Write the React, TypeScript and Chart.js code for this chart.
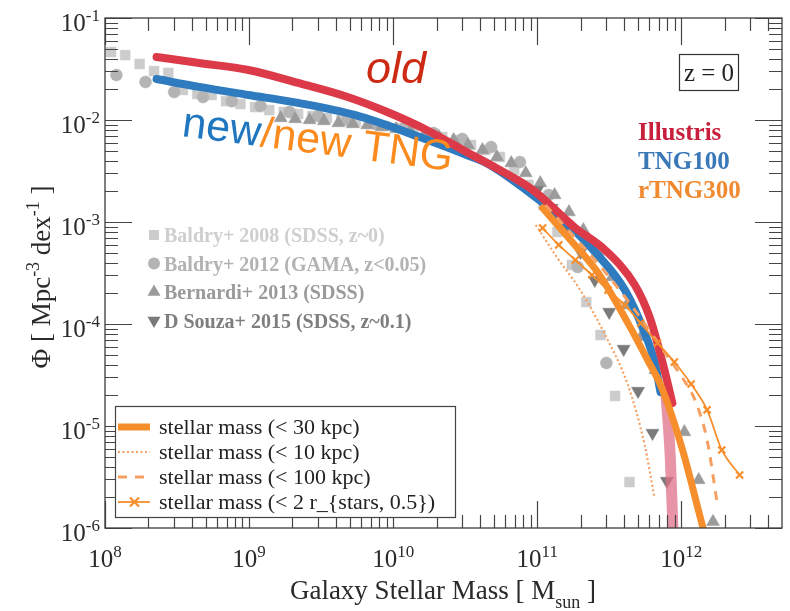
import { useEffect, useRef } from 'react';
import { Chart, registerables } from 'chart.js';
Chart.register(...registerables);

// ---------- axis setup ----------
const xMin = 1e8;
const xMax = 5e12;
const yMin = 1e-6;
const yMax = 1e-1;
const xMajorTicks = [1e8, 1e9, 1e10, 1e11, 1e12];
const xTickExps = ['8', '9', '10', '11', '12'];
const yMajorTicks = [1e-1, 1e-2, 1e-3, 1e-4, 1e-5, 1e-6];
const yTickExps = ['-1', '-2', '-3', '-4', '-5', '-6'];
const minorMultiples = [2, 3, 4, 5, 6, 7, 8, 9];

// ---------- simulations ----------
const illustrisMass = [2.28e8, 4.5e8, 9.9e8, 2.19e9, 4.83e9, 9.1e9, 1.71e10, 3.23e10, 5.19e10, 9.31e10, 1.84e11, 2.96e11, 4.76e11, 6.03e11, 6.73e11, 7.64e11, 8.67e11];
const illustrisPhi = [0.0415, 0.0362, 0.0309, 0.0231, 0.0168, 0.01197, 0.00798, 0.00485, 0.00338, 0.00206, 8.73e-4, 5.31e-4, 2.41e-4, 1.17e-4, 6.97e-5, 3.54e-5, 1.68e-5];
const illustrisTailMass = [7.8e11, 8.4e11, 8.9e11];
const illustrisTailPhi = [2.2e-5, 4.7e-6, 5e-7];

const tng100Mass = [2.28e8, 4.5e8, 9.9e8, 2.19e9, 5.4e9, 1.53e10, 3.23e10, 4.43e10, 9.31e10, 1.57e11, 2.52e11, 4.06e11, 5.57e11, 6.52e11, 7.17e11];
const tng100Phi = [0.0252, 0.0211, 0.0176, 0.0147, 0.0112, 0.0068, 0.00454, 0.00379, 0.00184, 1.0e-3, 5.08e-4, 2.15e-4, 8.17e-5, 4.24e-5, 2.15e-5];

const r30Mass = [1.09e11, 1.7e11, 2.65e11, 4.26e11, 5.84e11, 7.28e11, 1.02e12, 1.33e12, 1.49e12];
const r30Phi = [1.37e-3, 6.67e-4, 3.16e-4, 1.02e-4, 4.43e-5, 2.41e-5, 5.82e-6, 1.4e-6, 7.6e-7];

const r10Mass = [9.77e10, 1.38e11, 1.99e11, 2.96e11, 4.26e11, 5.57e11, 6.52e11];
const r10Phi = [9.35e-4, 4.44e-4, 2.15e-4, 7.8e-5, 2.52e-5, 6.5e-6, 1.97e-6];

const r100Mass = [1.14e11, 1.84e11, 2.96e11, 4.76e11, 7.89e11, 1.02e12, 1.26e12, 1.51e12, 1.77e12];
const r100Phi = [1.47e-3, 6.97e-4, 3.23e-4, 1.37e-4, 4.97e-5, 2.95e-5, 1.72e-5, 7.3e-6, 1.8e-6];

const rHalfMass = [1.09e11, 1.41e11, 1.84e11, 2.4e11, 3.1e11, 4.06e11, 5.22e11, 6.84e11, 8.95e11, 1.17e12, 1.51e12, 1.91e12, 2.54e12];
const rHalfPhi = [8.73e-4, 5.96e-4, 4.24e-4, 3.02e-4, 2.15e-4, 1.53e-4, 1.02e-4, 6.52e-5, 4.24e-5, 2.58e-5, 1.44e-5, 5.82e-6, 3.31e-6];

// ---------- observations ----------
const baldry08Mass = [1.1e8, 1.38e8, 1.74e8, 2.19e8, 2.75e8, 3.47e8, 4.37e8, 5.5e8, 6.92e8, 8.71e8, 1.1e9, 1.38e9, 1.74e9, 2.19e9, 2.75e9, 3.47e9, 4.37e9, 5.5e9, 6.92e9, 8.71e9, 1.1e10, 1.38e10, 1.74e10, 2.19e10, 2.75e10, 3.47e10, 4.37e10, 5.5e10, 6.92e10, 8.71e10, 1.1e11, 1.38e11, 1.74e11, 2.19e11, 2.75e11, 3.47e11, 4.37e11];
const baldry08Phi = [0.0464, 0.0433, 0.0354, 0.0302, 0.0289, 0.0197, 0.018, 0.0176, 0.0153, 0.01435, 0.0134, 0.01253, 0.01197, 0.01145, 0.01094, 0.01047, 0.01, 0.00955, 0.00914, 0.00873, 0.00835, 0.0078, 0.0073, 0.00681, 0.00637, 0.00569, 0.00508, 0.00434, 0.00324, 0.00231, 0.00147, 7.98e-4, 3.79e-4, 1.64e-4, 7.8e-5, 1.97e-5, 2.82e-6];

const baldry12Mass = [1.2e8, 1.91e8, 3.02e8, 4.79e8, 7.59e8, 1.2e9, 1.91e9, 3.02e9, 4.79e9, 7.59e9, 1.2e10, 1.91e10, 3.02e10, 4.79e10, 7.59e10, 1.2e11, 1.91e11, 3.02e11];
const baldry12Phi = [0.0276, 0.0236, 0.0188, 0.0168, 0.0153, 0.0137, 0.01197, 0.01094, 0.01, 0.00914, 0.00835, 0.00746, 0.00651, 0.00543, 0.00387, 0.00184, 3.62e-4, 4.15e-5];

const bernardiMass = [1.66e9, 2.09e9, 2.63e9, 3.31e9, 4.17e9, 5.25e9, 6.61e9, 8.32e9, 1.05e10, 1.32e10, 1.66e10, 2.09e10, 2.63e10, 3.31e10, 4.17e10, 5.25e10, 6.61e10, 8.32e10, 1.05e11, 1.32e11, 1.66e11, 2.09e11, 2.63e11, 3.31e11, 4.17e11, 5.25e11, 6.61e11, 8.32e11, 1.05e12, 1.32e12, 1.66e12];
const bernardiPhi = [0.01047, 0.01023, 0.01, 0.00977, 0.00935, 0.00914, 0.00893, 0.00853, 0.00817, 0.0078, 0.0073, 0.00681, 0.00637, 0.00569, 0.00508, 0.00434, 0.00378, 0.00302, 0.00241, 0.00184, 0.00125, 8.36e-4, 5.08e-4, 2.89e-4, 1.53e-4, 7.46e-5, 3.54e-5, 1.8e-5, 8.73e-6, 2.96e-6, 1.15e-6];

const dsouzaMass = [1e11, 1.26e11, 1.58e11, 2.0e11, 2.51e11, 3.16e11, 3.98e11, 5.01e11, 6.31e11, 7.94e11];
const dsouzaPhi = [2.06e-3, 1.37e-3, 8.73e-4, 5.08e-4, 2.7e-4, 1.31e-4, 5.69e-5, 2.2e-5, 8.53e-6, 2.89e-6];

// ---------- labels ----------
const obsLabels = ['Baldry+ 2008 (SDSS, z~0)', 'Baldry+ 2012 (GAMA, z<0.05)', 'Bernardi+ 2013 (SDSS)', 'D Souza+ 2015 (SDSS, z~0.1)'];
const simLabels = ['Illustris', 'TNG100', 'rTNG300'];
const lineLabels = ['stellar mass (< 30 kpc)', 'stellar mass (< 10 kpc)', 'stellar mass (< 100 kpc)', 'stellar mass (< 2 r_{stars, 0.5})'];
const redshiftLabel = 'z = 0';

// ---------- styles ----------
const SERIF = '"Liberation Serif", "Times New Roman", serif';
const SANS = '"Liberation Sans", Arial, sans-serif';
const C_RED = '#dc3a48';
const C_PINK = 'rgba(224,112,138,0.75)';
const C_BLUE = '#2f7bbf';
const C_ORANGE = '#f78e2c';
const C_ORANGE_L = '#f5a062';
const OBS_COLORS = ['#cccccc', '#b4b4b4', '#9b9b9b', '#7a7a7a'];
const OBS_TEXT = ['#cfcfcf', '#b2b2b2', '#9a9a9a', '#7e7e7e'];
const SIM_COLORS = ['#c8203c', '#3a78b8', '#f08a30'];

const pts = (xs: number[], ys: number[]) => xs.map((x, i) => ({ x, y: ys[i] }));

type Part = { t: string; font: string; dy: number };
function partsWidth(ctx: CanvasRenderingContext2D, parts: Part[]) {
  let w = 0;
  for (const p of parts) { ctx.font = p.font; w += ctx.measureText(p.t).width; }
  return w;
}
function drawParts(ctx: CanvasRenderingContext2D, parts: Part[], x: number, y: number, color: string) {
  ctx.fillStyle = color;
  ctx.textAlign = 'left';
  ctx.textBaseline = 'alphabetic';
  let cx = x;
  for (const p of parts) {
    ctx.font = p.font;
    ctx.fillText(p.t, cx, y + p.dy);
    cx += ctx.measureText(p.t).width;
  }
}

function marker(ctx: CanvasRenderingContext2D, kind: string, cx: number, cy: number, color: string) {
  ctx.fillStyle = color;
  ctx.beginPath();
  if (kind === 'rect') ctx.rect(cx - 5, cy - 5, 10, 10);
  else if (kind === 'circle') ctx.arc(cx, cy, 6, 0, Math.PI * 2);
  else if (kind === 'up') { ctx.moveTo(cx, cy - 7.5); ctx.lineTo(cx + 6.5, cy + 3.75); ctx.lineTo(cx - 6.5, cy + 3.75); }
  else { ctx.moveTo(cx, cy + 7.5); ctx.lineTo(cx + 6.5, cy - 3.75); ctx.lineTo(cx - 6.5, cy - 3.75); }
  ctx.closePath();
  ctx.fill();
}

const decor = {
  id: 'decor',
  afterDraw(chart: any) {
    const ctx: CanvasRenderingContext2D = chart.ctx;
    const a = chart.chartArea;
    const xs = chart.scales.x;
    const ys = chart.scales.y;
    ctx.save();

    // ticks (inward, all sides)
    ctx.strokeStyle = '#454545';
    ctx.lineWidth = 1.2;
    const MAJ = 27, MIN = 13;
    const vt = (v: number, len: number) => {
      const p = Math.round(xs.getPixelForValue(v)) + 0.5;
      ctx.beginPath();
      ctx.moveTo(p, a.bottom); ctx.lineTo(p, a.bottom - len);
      ctx.moveTo(p, a.top); ctx.lineTo(p, a.top + len);
      ctx.stroke();
    };
    const ht = (v: number, len: number) => {
      const p = Math.round(ys.getPixelForValue(v)) + 0.5;
      ctx.beginPath();
      ctx.moveTo(a.left, p); ctx.lineTo(a.left + len, p);
      ctx.moveTo(a.right, p); ctx.lineTo(a.right - len, p);
      ctx.stroke();
    };
    for (const v of xMajorTicks) {
      vt(v, MAJ);
      for (const m of minorMultiples) if (v * m < xMax) vt(v * m, MIN);
    }
    for (const v of yMajorTicks) {
      ht(v, MAJ);
      if (v < yMax) for (const m of minorMultiples) ht(v * m, MIN);
    }

    // frame
    ctx.strokeStyle = '#3c3c3c';
    ctx.lineWidth = 1.3;
    ctx.strokeRect(a.left, a.top, a.right - a.left, a.bottom - a.top);

    // tick labels
    const FMAIN = `25px ${SERIF}`, FSUP = `17px ${SERIF}`;
    xMajorTicks.forEach((v, i) => {
      const p = xs.getPixelForValue(v);
      const parts: Part[] = [{ t: '10', font: FMAIN, dy: 0 }, { t: xTickExps[i], font: FSUP, dy: -10 }];
      const w = partsWidth(ctx, parts);
      drawParts(ctx, parts, p - w / 2, 567, '#2a2a2a');
    });
    yMajorTicks.forEach((v, i) => {
      const p = ys.getPixelForValue(v);
      const parts: Part[] = [{ t: '10', font: FMAIN, dy: 0 }, { t: yTickExps[i], font: FSUP, dy: -10 }];
      const w = partsWidth(ctx, parts);
      drawParts(ctx, parts, 100 - w, p + 13, '#2a2a2a');
    });

    // axis titles
    const FT = `27px ${SERIF}`, FTS = `18px ${SERIF}`;
    const xt: Part[] = [
      { t: 'Galaxy Stellar Mass [ M', font: FT, dy: 0 },
      { t: 'sun', font: FTS, dy: 9 },
      { t: ' ]', font: FT, dy: 0 },
    ];
    const xw = partsWidth(ctx, xt);
    drawParts(ctx, xt, 443 - xw / 2, 599, '#2a2a2a');

    const yt: Part[] = [
      { t: '\u03A6 [ Mpc', font: FT, dy: 0 },
      { t: '-3', font: FTS, dy: -11 },
      { t: ' dex', font: FT, dy: 0 },
      { t: '-1', font: FTS, dy: -11 },
      { t: ' ]', font: FT, dy: 0 },
    ];
    const yw = partsWidth(ctx, yt);
    ctx.save();
    ctx.translate(40, 277);
    ctx.rotate(-Math.PI / 2);
    drawParts(ctx, yt, -yw / 2, 10, '#2a2a2a');
    ctx.restore();

    // redshift box
    ctx.strokeStyle = '#333';
    ctx.lineWidth = 1.2;
    ctx.strokeRect(679.5, 54.5, 59, 36);
    ctx.font = `25px ${SERIF}`;
    ctx.fillStyle = '#222';
    ctx.textAlign = 'center';
    ctx.fillText(redshiftLabel, 709, 81);

    // simulation names
    ctx.textAlign = 'left';
    ctx.font = `bold 25px ${SERIF}`;
    simLabels.forEach((s, i) => {
      ctx.fillStyle = SIM_COLORS[i];
      ctx.fillText(s, 638, 140 + i * 29);
    });

    // observational legend
    const kinds = ['rect', 'circle', 'up', 'down'];
    obsLabels.forEach((s, i) => {
      const base = 242 + i * 28.5;
      marker(ctx, kinds[i], 154, base - 7, OBS_COLORS[i]);
      ctx.fillStyle = OBS_TEXT[i];
      ctx.font = `bold 20px ${SERIF}`;
      ctx.fillText(s, 164, base);
    });

    // line legend box
    ctx.fillStyle = '#ffffff';
    ctx.fillRect(115, 406, 340, 111);
    ctx.strokeStyle = '#444';
    ctx.lineWidth = 1.2;
    ctx.strokeRect(115.5, 406.5, 340, 111);
    const rows = [427, 452, 477, 502];
    ctx.lineCap = 'butt';
    ctx.strokeStyle = C_ORANGE; ctx.lineWidth = 7; ctx.setLineDash([]);
    ctx.beginPath(); ctx.moveTo(118, rows[0]); ctx.lineTo(150, rows[0]); ctx.stroke();
    ctx.strokeStyle = C_ORANGE_L; ctx.lineWidth = 2.2; ctx.setLineDash([2, 2.5]);
    ctx.beginPath(); ctx.moveTo(118, rows[1]); ctx.lineTo(150, rows[1]); ctx.stroke();
    ctx.strokeStyle = C_ORANGE_L; ctx.lineWidth = 3; ctx.setLineDash([9, 8]);
    ctx.beginPath(); ctx.moveTo(118, rows[2]); ctx.lineTo(150, rows[2]); ctx.stroke();
    ctx.setLineDash([]);
    ctx.strokeStyle = C_ORANGE; ctx.lineWidth = 1.8;
    ctx.beginPath(); ctx.moveTo(118, rows[3]); ctx.lineTo(150, rows[3]); ctx.stroke();
    ctx.lineWidth = 2.2;
    ctx.beginPath();
    ctx.moveTo(130, rows[3] - 4.5); ctx.lineTo(139, rows[3] + 4.5);
    ctx.moveTo(139, rows[3] - 4.5); ctx.lineTo(130, rows[3] + 4.5);
    ctx.stroke();
    ctx.font = `22px ${SERIF}`;
    ctx.fillStyle = '#222';
    lineLabels.forEach((s, i) => ctx.fillText(s, 159, rows[i] + 7));

    // big annotations
    ctx.font = `italic 45px ${SANS}`;
    ctx.fillStyle = '#cc2a12';
    ctx.fillText('old', 366, 83);

    ctx.save();
    ctx.translate(181, 136);
    ctx.rotate((7.4 * Math.PI) / 180);
    ctx.font = `43px ${SANS}`;
    ctx.fillStyle = '#2077c0';
    ctx.fillText('new', 0, 0);
    const nw = ctx.measureText('new').width;
    ctx.fillStyle = '#fb8b1f';
    ctx.fillText('/new TNG', nw, 0);
    ctx.restore();

    ctx.restore();
  },
};

const lineDs = (label: string, xs: number[], ys: number[], color: string, width: number, order: number, extra: any = {}) => ({
  label,
  data: pts(xs, ys),
  showLine: true,
  borderColor: color,
  backgroundColor: color,
  borderWidth: width,
  pointRadius: 0,
  cubicInterpolationMode: 'monotone',
  borderCapStyle: 'round',
  order,
  ...extra,
});

const obsDs = (label: string, xs: number[], ys: number[], color: string, style: string, radius: number, order: number, rotation = 0) => ({
  label,
  data: pts(xs, ys),
  showLine: false,
  pointStyle: style,
  pointRadius: radius,
  pointRotation: rotation,
  pointBackgroundColor: color,
  pointBorderColor: color,
  pointBorderWidth: 0.5,
  order,
});

export default function App() {
  const ref = useRef<HTMLCanvasElement>(null);
  useEffect(() => {
    const chart = new Chart(ref.current as HTMLCanvasElement, {
      type: 'scatter',
      data: {
        datasets: [
          obsDs(obsLabels[0], baldry08Mass, baldry08Phi, OBS_COLORS[0], 'rect', 7, 13) as any,
          obsDs(obsLabels[1], baldry12Mass, baldry12Phi, OBS_COLORS[1], 'circle', 6, 12) as any,
          obsDs(obsLabels[2], bernardiMass, bernardiPhi, OBS_COLORS[2], 'triangle', 7.5, 11) as any,
          obsDs(obsLabels[3], dsouzaMass, dsouzaPhi, OBS_COLORS[3], 'triangle', 7.5, 10, 180) as any,
          lineDs(lineLabels[3], rHalfMass, rHalfPhi, C_ORANGE, 1.8, 0, {
            pointRadius: 5, pointStyle: 'crossRot', pointBorderWidth: 2.2, pointBorderColor: C_ORANGE,
          }) as any,
          lineDs(lineLabels[2], r100Mass, r100Phi, C_ORANGE_L, 3, 1, { borderDash: [9, 8], borderCapStyle: 'butt' }) as any,
          lineDs(lineLabels[1], r10Mass, r10Phi, C_ORANGE_L, 2.2, 1, { borderDash: [2, 2.5], borderCapStyle: 'butt' }) as any,
          lineDs(lineLabels[0], r30Mass, r30Phi, C_ORANGE, 7, 1) as any,
          lineDs(simLabels[0], illustrisMass, illustrisPhi, C_RED, 8, 3) as any,
          lineDs('Illustris tail', illustrisTailMass, illustrisTailPhi, C_PINK, 11, 4, { borderCapStyle: 'butt' }) as any,
          lineDs(simLabels[1], tng100Mass, tng100Phi, C_BLUE, 8, 5) as any,
        ],
      },
      options: {
        responsive: false,
        animation: false,
        events: [],
        layout: { padding: { left: 105, right: 6, top: 18, bottom: 83 } },
        scales: {
          x: { type: 'logarithmic', min: xMin, max: xMax, display: false },
          y: { type: 'logarithmic', min: yMin, max: yMax, display: false },
        },
        plugins: { legend: { display: false }, tooltip: { enabled: false } },
      },
      plugins: [decor],
    } as any);
    return () => chart.destroy();
  }, []);
  return (
    <div style={{ position: 'absolute', left: 0, top: 0, width: 790, height: 611, background: '#fff' }}>
      <canvas ref={ref} width={790} height={611} style={{ display: 'block', width: 790, height: 611 }} />
    </div>
  );
}
